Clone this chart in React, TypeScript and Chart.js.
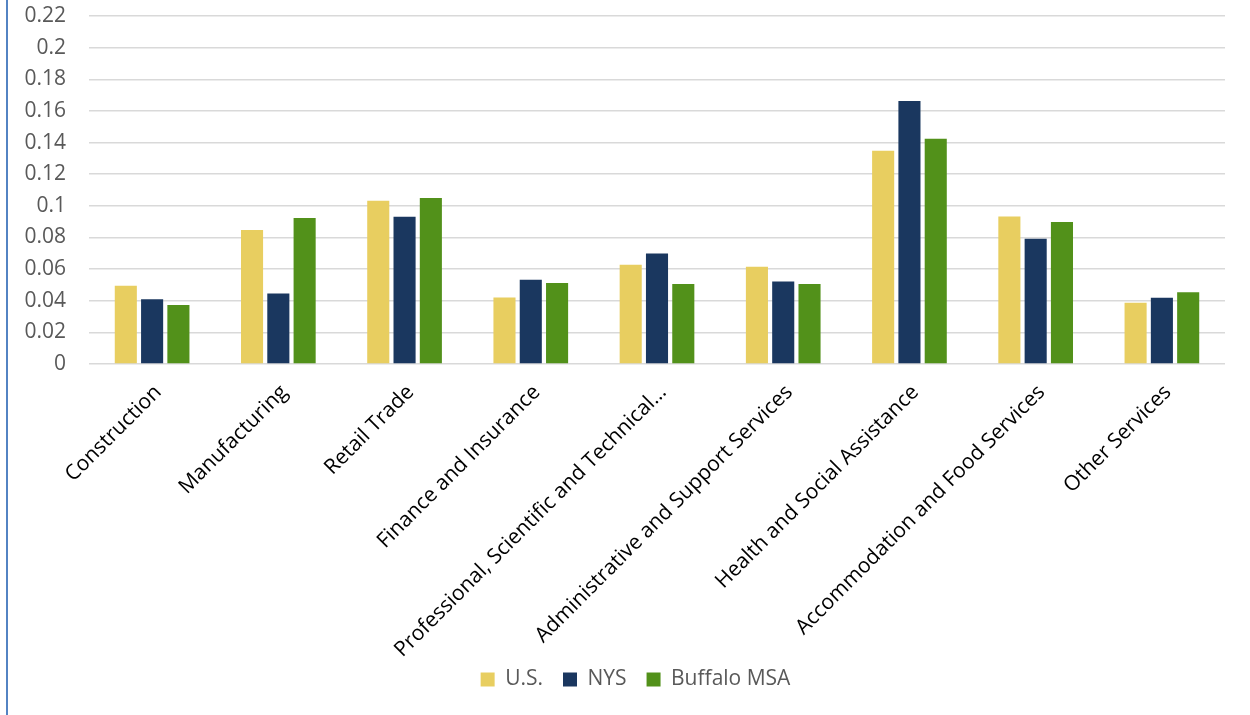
import React, { useEffect, useRef } from "react";
import { Chart, registerables } from "chart.js";

Chart.register(...registerables);

// Industry categories along the x axis
const categories = [
  "Construction",
  "Manufacturing",
  "Retail Trade",
  "Finance and Insurance",
  "Professional, Scientific and Technical…",
  "Administrative and Support Services",
  "Health and Social Assistance",
  "Accommodation and Food Services",
  "Other Services",
];

// Employment shares by industry
const usShare = [0.0495, 0.0847, 0.1032, 0.0421, 0.0628, 0.0615, 0.1348, 0.0933, 0.0388];
const nysShare = [0.041, 0.0446, 0.0931, 0.0533, 0.0699, 0.0522, 0.1663, 0.0792, 0.0419];
const buffaloShare = [0.0373, 0.0923, 0.105, 0.0512, 0.0506, 0.0506, 0.1424, 0.0898, 0.0453];

const seriesNames = ["U.S.", "NYS", "Buffalo MSA"];

// Value axis range and tick step
const yMin = 0;
const yMax = 0.22;
const yStep = 0.02;

const FONT = "'Open Sans', 'DejaVu Sans', sans-serif";

// Moves the legend row under the plot's centre and a little higher
const legendShift = {
  id: "legendShift",
  afterLayout(chart: any) {
    const lg = chart.legend;
    if (lg) {
      lg.left += 46;
      lg.top -= 15;
    }
  },
};

export default function App() {
  const canvasRef = useRef<HTMLCanvasElement | null>(null);

  useEffect(() => {
    const canvas = canvasRef.current;
    if (!canvas) return;
    const chart = new Chart(canvas, {
      type: "bar",
      data: {
        labels: categories,
        datasets: [
          { label: seriesNames[0], data: usShare, backgroundColor: "#E8CE60" },
          { label: seriesNames[1], data: nysShare, backgroundColor: "#1A375F" },
          { label: seriesNames[2], data: buffaloShare, backgroundColor: "#52911A" },
        ],
      },
      plugins: [legendShift],
      options: {
        responsive: false,
        animation: false,
        layout: { padding: { top: 16, right: 25, bottom: 0, left: 0 } },
        datasets: {
          bar: { categoryPercentage: 0.625, barPercentage: 0.84 },
        },
        plugins: {
          legend: {
            position: "bottom",
            labels: {
              boxWidth: 14,
              boxHeight: 14,
              padding: 20,
              color: "#595959",
              font: { family: FONT, size: 21 },
            },
          },
          tooltip: { enabled: false },
        },
        scales: {
          x: {
            grid: { display: false, drawTicks: false },
            border: { display: false },
            ticks: {
              autoSkip: false,
              minRotation: 45,
              maxRotation: 45,
              padding: 16,
              labelOffset: 6,
              color: "#000000",
              font: { family: FONT, size: 21 },
            },
            afterFit: (scale: any) => {
              scale.height = 300;
            },
          },
          y: {
            min: yMin,
            max: yMax,
            grid: {
              color: "#D9D9D9",
              lineWidth: 1.5,
              drawTicks: true,
              tickLength: 23,
              tickColor: "rgba(0,0,0,0)",
            },
            border: { display: false },
            ticks: {
              stepSize: yStep,
              padding: 0,
              color: "#595959",
              font: { family: FONT, size: 21 },
              callback: (v: any) => String(+Number(v).toFixed(2)),
            },
            afterFit: (scale: any) => {
              scale.width = 89;
            },
          },
        },
      },
    });
    return () => chart.destroy();
  }, []);

  return (
    <div style={{ position: "absolute", left: 0, top: 0, width: 1250, height: 715, background: "#fff" }}>
      <canvas ref={canvasRef} width={1250} height={715} style={{ display: "block" }} />
      <div style={{ position: "absolute", left: 6, top: 0, width: 2, height: 715, background: "#5383C3" }} />
    </div>
  );
}
